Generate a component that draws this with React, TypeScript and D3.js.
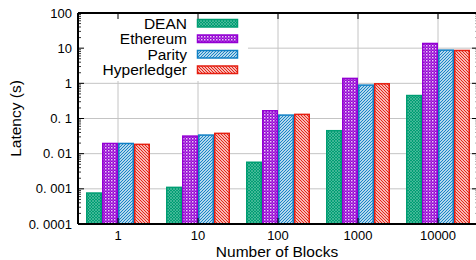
import { scaleBand, scaleLog } from "d3";

// log-scale grouped bar chart, gnuplot look

const W = 476;
const H = 260;
const MARGIN = { top: 13, right: -2, bottom: 36, left: 78 };

const categories = ["1", "10", "100", "1000", "10000"];
const seriesNames = ["DEAN", "Ethereum", "Parity", "Hyperledger"];
const dean = [0.00076, 0.0011, 0.0057, 0.045, 0.45];
const ethereum = [0.0195, 0.0316, 0.166, 1.38, 13.6];
const parity = [0.0195, 0.0338, 0.125, 0.89, 8.8];
const hyperledger = [0.0184, 0.0378, 0.131, 0.97, 8.6];
const yTicks = [0.0001, 0.001, 0.01, 0.1, 1, 10, 100];
const yTickLabels = ["0. 0001", "0. 001", "0. 01", "0. 1", "1", "10", "100"];

const COLORS = ["#009e73", "#9400d3", "#0f7fc4", "#e51e10"];
const PATTERNS = ["pDean", "pEth", "pParity", "pHyper"];

const FONT = "'Liberation Sans', Arial, sans-serif";

export const App = () => {
  const series = [dean, ethereum, parity, hyperledger];
  const x0 = MARGIN.left;
  const x1 = W - MARGIN.right;
  const y0 = H - MARGIN.bottom;
  const y1 = MARGIN.top;

  const xScale = scaleBand().domain(categories).range([x0, x1]);
  const inner = scaleBand().domain(seriesNames).range([-32, 32]);
  const yScale = scaleLog().domain([0.0001, 100]).range([y0, y1]);

  const minorTicks: number[] = [];
  for (let d = -4; d < 2; d++) {
    for (let m = 2; m < 10; m++) minorTicks.push(m * Math.pow(10, d));
  }

  // legend box (blocks grid)
  const legend = { x: x0, y: y1, w: 169, h: 67 };

  return (
    <svg
      width={W}
      height={H}
      style={{ position: "absolute", left: 0, top: 0, background: "#fff" }}
      fontFamily={FONT}
    >
      <defs>
        <pattern id="pDean" width="3" height="3" patternUnits="userSpaceOnUse">
          <rect width="3" height="3" fill={COLORS[0]} />
          <path d="M0,3 L3,0 M0,0 L3,3" stroke="#fff" strokeWidth="0.6" opacity="0.4" />
        </pattern>
        <pattern id="pEth" width="3" height="3" patternUnits="userSpaceOnUse">
          <rect width="3" height="3" fill={COLORS[1]} />
          <rect x="0" y="0" width="1.5" height="1.5" fill="#fff" opacity="0.8" />
          <rect x="1.5" y="1.5" width="1.5" height="1.5" fill="#fff" opacity="0.25" />
        </pattern>
        <pattern id="pParity" width="3" height="3" patternUnits="userSpaceOnUse">
          <rect width="3" height="3" fill="#fff" />
          <path d="M-1,1 L1,-1 M0,3 L3,0 M2,4 L4,2" stroke={COLORS[2]} strokeWidth="1.2" />
        </pattern>
        <pattern id="pHyper" width="3" height="3" patternUnits="userSpaceOnUse">
          <rect width="3" height="3" fill="#fff" />
          <path d="M-1,2 L1,4 M0,0 L3,3 M2,-1 L4,1" stroke={COLORS[3]} strokeWidth="1.2" />
        </pattern>
      </defs>

      {/* grid */}
      <g stroke="#c4c4c4" strokeWidth={1}>
        {yTicks.slice(1, -1).map((t) => (
          <line key={t} x1={x0} x2={x1} y1={yScale(t)} y2={yScale(t)} />
        ))}
        {categories.map((c) => {
          const cx = (xScale(c) ?? 0) + xScale.bandwidth() / 2;
          return <line key={c} x1={cx} x2={cx} y1={y0} y2={y1} />;
        })}
      </g>
      <rect x={legend.x + 1} y={legend.y + 1} width={legend.w} height={legend.h} fill="#fff" />

      {/* bars */}
      {categories.map((c, i) => {
        const cx = (xScale(c) ?? 0) + xScale.bandwidth() / 2;
        return (
          <g key={c}>
            {series.map((s, j) => {
              const top = yScale(s[i]);
              return (
                <rect
                  key={j}
                  x={cx + (inner(seriesNames[j]) ?? 0) + 0.75}
                  y={top}
                  width={inner.bandwidth() - 1.5}
                  height={y0 - top}
                  fill={`url(#${PATTERNS[j]})`}
                  stroke={COLORS[j]}
                  strokeWidth={1.5}
                />
              );
            })}
          </g>
        );
      })}

      {/* axes frame */}
      <g stroke="#000" fill="none">
        <line x1={x0} x2={x1} y1={y0} y2={y0} strokeWidth={2} />
        <line x1={x0} x2={x1} y1={y1} y2={y1} strokeWidth={2} />
        <line x1={x0} x2={x0} y1={y0} y2={y1} strokeWidth={2} />
        <line x1={x1} x2={x1} y1={y0} y2={y1} strokeWidth={2} />
        {yTicks.map((t) => (
          <g key={t}>
            <line x1={x0} x2={x0 + 6} y1={yScale(t)} y2={yScale(t)} />
            <line x1={x1 - 6} x2={x1} y1={yScale(t)} y2={yScale(t)} />
          </g>
        ))}
        {minorTicks.map((t) => (
          <g key={t} strokeWidth={0.8}>
            <line x1={x0} x2={x0 + 3} y1={yScale(t)} y2={yScale(t)} />
            <line x1={x1 - 3} x2={x1} y1={yScale(t)} y2={yScale(t)} stroke="#999" />
          </g>
        ))}
        {categories.map((c) => {
          const cx = (xScale(c) ?? 0) + xScale.bandwidth() / 2;
          return (
            <g key={c}>
              <line x1={cx} x2={cx} y1={y0} y2={y0 - 6} />
              <line x1={cx} x2={cx} y1={y1} y2={y1 + 6} />
            </g>
          );
        })}
      </g>

      {/* tick labels */}
      <g fontSize={13} fill="#000">
        {yTicks.map((t, i) => (
          <text key={t} x={72} y={yScale(t)} dy="0.35em" textAnchor="end">
            {yTickLabels[i]}
          </text>
        ))}
        {categories.map((c) => (
          <text
            key={c}
            x={(xScale(c) ?? 0) + xScale.bandwidth() / 2}
            y={240}
            textAnchor="middle"
          >
            {c}
          </text>
        ))}
      </g>

      {/* axis titles */}
      <text x={277} y={257} fontSize={15.5} textAnchor="middle">
        Number of Blocks
      </text>
      <text
        transform={`translate(21,${(y0 + y1) / 2}) rotate(-90)`}
        fontSize={15.5}
        textAnchor="middle"
      >
        Latency (s)
      </text>

      {/* legend */}
      {seriesNames.map((name, j) => {
        const cy = 23 + j * 15.5;
        return (
          <g key={name}>
            <text x={187} y={cy} dy="0.36em" fontSize={15.5} textAnchor="end">
              {name}
            </text>
            <rect
              x={197.5}
              y={cy - 3.5}
              width={40}
              height={7.5}
              fill={`url(#${PATTERNS[j]})`}
              stroke={COLORS[j]}
              strokeWidth={1.5}
            />
          </g>
        );
      })}
    </svg>
  );
};

export default App;
